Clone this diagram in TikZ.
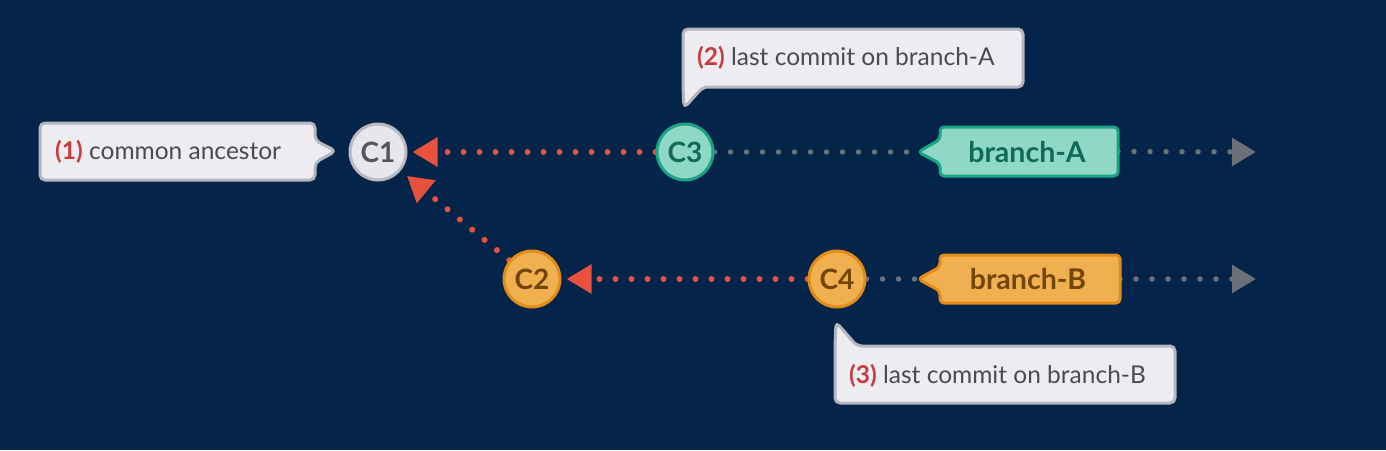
\documentclass[tikz,border=0pt]{standalone}
\usepackage{fontspec}
\setmainfont{Lato}
\usetikzlibrary{arrows.meta,calc}
\definecolor{bgnavy}{HTML}{04244A}
\definecolor{cgfill}{HTML}{E6E6EC}
\definecolor{cgline}{HTML}{B8B9C3}
\definecolor{cgtext}{HTML}{55555D}
\definecolor{tfill}{HTML}{8FD8C6}
\definecolor{tline}{HTML}{1AA486}
\definecolor{ttext}{HTML}{0F6A57}
\definecolor{ofill}{HTML}{F0B04F}
\definecolor{oline}{HTML}{E38D18}
\definecolor{otext}{HTML}{734508}
\definecolor{redline}{HTML}{E9513F}
\definecolor{numred}{HTML}{C73B3D}
\definecolor{greyline}{HTML}{6B7079}
\definecolor{callfill}{HTML}{ECECF1}
\definecolor{callline}{HTML}{B5B6BE}
\definecolor{calltext}{HTML}{4A4A55}
\pgfdeclarelayer{back}
\pgfdeclarelayer{edges}
\pgfsetlayers{back,edges,main}
\begin{document}
\begin{tikzpicture}[x=1pt,y=-1pt,
  commit/.style={circle, minimum size=56pt, inner sep=0pt, line width=3pt,
    font=\fontsize{28}{28}\selectfont\bfseries},
  cgrey/.style={commit, draw=cgline, fill=cgfill, text=cgtext},
  cteal/.style={commit, draw=tline, fill=tfill, text=ttext},
  corange/.style={commit, draw=oline, fill=ofill, text=otext},
  boxanchor/.style={rectangle, inner sep=0pt, outer sep=0pt},
  callshape/.style={draw=callline, fill=callfill, line width=3pt, rounded corners=5pt, line join=round},
  ctext/.style={inner sep=0pt, anchor=west, text=calltext, font=\fontsize{24.5}{24.5}\selectfont},
  btext/.style={inner sep=0pt, font=\fontsize{28.5}{28.5}\selectfont\bfseries},
  reddots/.style={draw=redline, line width=6pt, line cap=round, dash pattern=on 0pt off 16pt,
    -{Triangle[length=25pt,width=28pt,fill=redline]}},
  greydots/.style={draw=greyline, line width=5.5pt, line cap=round, dash pattern=on 0pt off 16pt},
  greyarrow/.style={greydots, -{Triangle[length=24pt,width=27pt,fill=greyline]}}
]
\begin{pgfonlayer}{back}
  \fill[bgnavy] (0,0) rectangle (1386,450);
\end{pgfonlayer}
\useasboundingbox (0,0) rectangle (1386,450);

% commits
\node[cgrey] (C1) at (378,152) {C1};
\node[cteal] (C3) at (685,152) {C3};
\node[corange] (C2) at (532,279) {C2};
\node[corange] (C4) at (837,279) {C4};

% branch labels
\node[boxanchor, minimum width=178pt, minimum height=49pt] (bA) at (1029,151.5) {};
\coordinate (bAtip) at (918,152);
\draw[draw=tline, fill=tfill, line width=3pt, rounded corners=4pt, line join=round]
  (bA.north west) -- (bA.north east) -- (bA.south east) -- (bA.south west)
  -- ($(bA.west)+(0,12)$) -- (bAtip) -- ($(bA.west)+(0,-12)$) -- cycle;
\node[btext, text=ttext] (bAt) at (1027,152) {branch-A};

\node[boxanchor, minimum width=180pt, minimum height=48pt] (bB) at (1030,279) {};
\coordinate (bBtip) at (918,279);
\draw[draw=oline, fill=ofill, line width=3pt, rounded corners=4pt, line join=round]
  (bB.north west) -- (bB.north east) -- (bB.south east) -- (bB.south west)
  -- ($(bB.west)+(0,12)$) -- (bBtip) -- ($(bB.west)+(0,-12)$) -- cycle;
\node[btext, text=otext] (bBt) at (1028,279) {branch-B};

\coordinate (endA) at (1256,152);
\coordinate (endB) at (1256,279);

% callout 1
\node[boxanchor, minimum width=275pt, minimum height=57pt] (k1) at (177.5,151.5) {};
\coordinate (k1tip) at (336,151);
\draw[callshape] (k1.north west) -- (k1.north east) -- ($(k1.east)+(0,-11)$) -- (k1tip)
  -- ($(k1.east)+(0,11)$) -- (k1.south east) -- (k1.south west) -- cycle;
\node[ctext] (k1t) at (55,152) {\textcolor{numred}{\bfseries(1)} common ancestor};

% callout 2
\node[boxanchor, minimum width=340pt, minimum height=58pt] (k2) at (853,58) {};
\coordinate (k2tip) at (684,108);
\draw[callshape] (k2.north west) -- (k2.north east) -- (k2.south east)
  -- ($(k2.south west)+(20,0)$) -- (k2tip) -- (k2.south west) -- cycle;
\node[ctext] (k2t) at (697,58) {\textcolor{numred}{\bfseries(2)} last commit on branch-A};

% callout 3
\node[boxanchor, minimum width=340pt, minimum height=57pt] (k3) at (1005,374.5) {};
\coordinate (k3tip) at (836,322);
\draw[callshape] (k3.south west) -- (k3.north west) -- (k3tip)
  -- ($(k3.north west)+(22,0)$) -- (k3.north east) -- (k3.south east) -- cycle;
\node[ctext] (k3t) at (849,376) {\textcolor{numred}{\bfseries(3)} last commit on branch-B};

% connectors
\begin{pgfonlayer}{edges}
  \draw[reddots, shorten >=5pt] (C3) -- (C1);
  \draw[reddots, shorten >=8pt] (C2) -- (C1);
  \draw[reddots, shorten >=5pt] (C4) -- (C2);
  \draw[greydots] (C3) -- (bAtip);
  \draw[greyarrow] (bA.east) -- (endA);
  \draw[greydots] (C4) -- (bBtip);
  \draw[greyarrow] (bB.east) -- (endB);
\end{pgfonlayer}
\end{tikzpicture}
\end{document}
